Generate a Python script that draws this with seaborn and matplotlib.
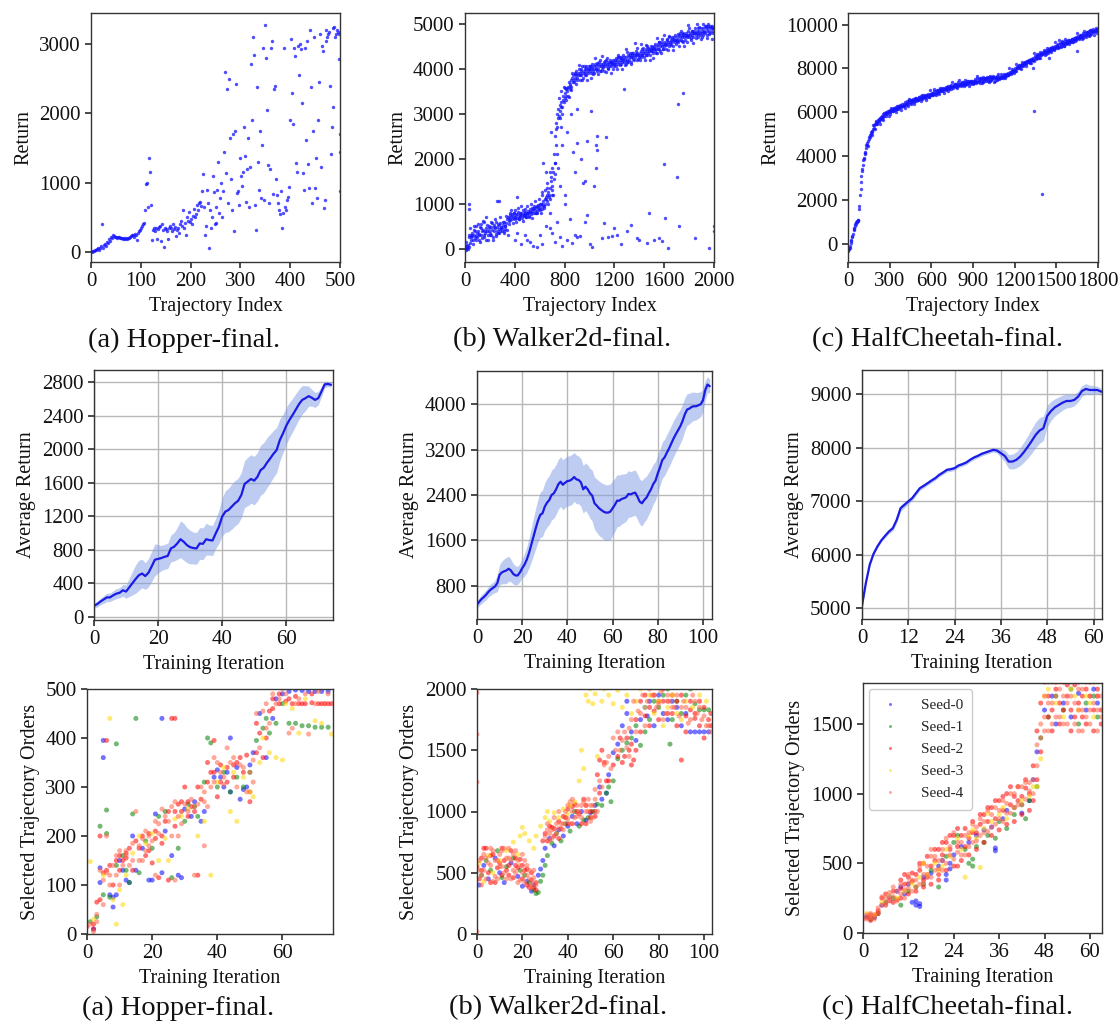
import numpy as np
import pandas as pd
import matplotlib
matplotlib.use("Agg")
import matplotlib.pyplot as plt
import seaborn as sns

# ---------------------------------------------------------------- data
# Top row: return of every collected trajectory
hop_step = 2
hop_ret = [
    10, 5, 20, 15, 30, 25, 40, 60, 35, 50,
    80, 410, 60, 100, 120, 90, 150, 130, 180, 160,
    220, 200, 240, 230, 210, 220, 200, 215, 210, 205,
    200, 195, 190, 200, 185, 195, 190, 200, 205, 210,
    230, 240, 250, 220, 260, 250, 170, 280, 300, 320,
    350, 380, 400, 420, 600, 980, 1000, 650, 1350, 1150,
    680, 170, 320, 350, 300, 340, 180, 330, 360, 380,
    160, 400, 320, 70, 350, 330, 300, 190, 340, 380,
    350, 300, 400, 330, 360, 230, 310, 350, 280, 400,
    450, 380, 600, 350, 420, 240, 500, 450, 580, 430,
    480, 400, 520, 620, 500, 550, 680, 600, 700, 720,
    660, 880, 1130, 650, 250, 380, 900, 700, 50, 600,
    350, 500, 1100, 870, 400, 650, 420, 900, 1300, 560,
    780, 1000, 500, 880, 1450, 2600, 1140, 2350, 700, 2500,
    1650, 1050, 600, 1700, 300, 1750, 2420, 850, 880, 680,
    1350, 1100, 950, 1150, 1800, 1380, 720, 1200, 1650, 650,
    1220, 2720, 1900, 3100, 2850, 680, 320, 2380, 1300, 900,
    1750, 780, 1550, 2950, 750, 3280, 2800, 2050, 1250, 700,
    1200, 2950, 3050, 830, 2350, 2400, 1050, 820, 700, 600,
    550, 880, 350, 560, 2950, 650, 600, 750, 800, 940,
    1900, 3080, 2300, 1850, 2950, 2830, 1280, 1160, 2980, 2550,
    3000, 2930, 2150, 1140, 900, 2950, 1620, 3050, 1270, 920,
    3200, 2380, 700, 1750, 3110, 930, 1360, 780, 1900, 2450,
    3150, 1220, 2980, 2900, 630, 750, 3050, 3100, 3150, 3180,
    2400, 1420, 1800, 2100, 3250, 3100, 3150, 3200, 3180, 3150,
]
hop_extra_idx = [497, 499, 499, 499, 486, 472]
hop_extra_ret = [2780, 1700, 1450, 880, 3230, 3200]

wk_step = 5
wk_ret = [
    0, 20, -30, 50, 10, 80, 40, 250, 120, 300, 200, 350, 270, 180, 420, 300, 230, 500, 280, 340,
    260, 400, 180, 330, 470, 300, 550, 240, 380, 420, 290, 600, 350, 200, 450, 380, 520, 310, 400, 460,
    350, 480, 300, 560, 420, 250, 380, 520, 450, 330, 600, 400, 470, 350, 520, 430, 380, 560, 480, 400,
    450, 520, 380, 600, 430, 490, 560, 420, 650, 700, 620, 680, 740, 640, 700, 760, 660, 720, 690, 780,
    700, 650, 740, 680, 760, 820, 700, 660, 750, 720, 800, 680, 740, 860, 720, 780, 740, 820, 700, 790,
    760, 840, 800, 720, 880, 820, 760, 900, 840, 780, 870, 940, 800, 860, 920, 840, 780, 900, 960, 880,
    850, 920, 980, 880, 1000, 940, 1050, 900, 1100, 980, 1150, 1050, 1200, 1000, 1250, 1150, 1350, 1100, 1500, 1300,
    1400, 1200, 1700, 1550, 1900, 1650, 2300, 2100, 2700, 2900, 3100, 2950, 3200, 3050, 3150, 3250, 3000, 3300, 3400, 3250,
    3350, 3450, 3300, 3550, 3500, 3400, 3600, 3700, 3550, 3650, 3750, 3600, 3800, 3700, 3850, 3750, 3900, 3800, 3850, 3950,
    3800, 3900, 3850, 4000, 3750, 3900, 3950, 3850, 4050, 3900, 3800, 3950, 4000, 3900, 4050, 3850, 3950, 4000, 3900, 4050,
    3950, 4000, 3900, 4050, 4100, 3950, 4000, 4050, 3900, 4100, 4000, 4050, 3950, 4100, 4000, 4150, 4050, 3950, 4100, 4050,
    4000, 4100, 4050, 4150, 3950, 4100, 4050, 4200, 4100, 4000, 4150, 4100, 4050, 4200, 4150, 4050, 4100, 4200, 4150, 4050,
    4100, 4200, 4150, 4050, 4200, 4250, 4100, 4150, 4250, 4200, 4100, 4250, 4150, 4200, 4300, 4150, 4250, 4200, 4100, 4250,
    4200, 4150, 4300, 4250, 4200, 4350, 4250, 4150, 4300, 4250, 4350, 4200, 4300, 4250, 4400, 4300, 4200, 4350, 4300, 4250,
    4300, 4350, 4250, 4400, 4300, 4450, 4350, 4250, 4400, 4350, 4450, 4300, 4400, 4500, 4350, 4450, 4400, 4300, 4500, 4400,
    4400, 4450, 4350, 4500, 4450, 4400, 4550, 4450, 4350, 4500, 4550, 4450, 4600, 4500, 4400, 4550, 4500, 4600, 4450, 4550,
    4500, 4600, 4550, 4450, 4650, 4550, 4600, 4500, 4700, 4600, 4550, 4650, 4700, 4600, 4500, 4650, 4700, 4600, 4750, 4650,
    4650, 4700, 4600, 4750, 4650, 4700, 4800, 4650, 4700, 4750, 4600, 4800, 4700, 4750, 4650, 4800, 4750, 4700, 4850, 4750,
    4700, 4800, 4750, 4650, 4850, 4750, 4800, 4700, 4850, 4800, 4900, 4750, 4850, 4800, 4700, 4900, 4850, 4800, 4750, 4900,
    4800, 4850, 4900, 4750, 4850, 4950, 4800, 4900, 4850, 4750, 4950, 4900, 4850, 4800, 4950, 4900, 4850, 4950, 4800, 4900,
]
# a second pass of Walker2d trajectories (indices 2, 12, 22, ...)
wk_ret_b = [
    80, 150, -20, 300, 450, 250, 100, 500, 380, 200,
    550, 300, 150, 450, 620, 250, 400, 700, 180, 500,
    300, 600, 200, 480, 650, 280, 550, 350, 700, 450,
    600, 350, 500, 720, 300, 550, 800, 850, 560, 780,
    850, 600, 900, 650, 800, 950, 620, 750, 880, 700,
    950, 700, 820, 1000, 680, 900, 1050, 780, 950, 1100,
    1000, 800, 1200, 950, 1300, 1100, 1450, 1200, 1700, 1600,
    1800, 2100, 2500, 2800, 3000, 3350, 2900, 3500, 3150, 3600,
    3570, 3390, 3570, 3360, 3620, 3530, 3910, 3710, 3880, 3670,
    3740, 4090, 3860, 4000, 3750, 4070, 3860, 4010, 3760, 3990,
    4050, 3800, 4020, 3890, 4240, 3990, 4130, 3880, 4190, 3960,
    4280, 4030, 4170, 3920, 4230, 4010, 4160, 3900, 4130, 4000,
    4100, 4240, 3990, 4300, 4080, 4230, 3990, 4220, 4090, 4430,
    4375, 4155, 4305, 4115, 4345, 4215, 4565, 4325, 4465, 4215,
    4205, 4555, 4315, 4455, 4205, 4525, 4305, 4455, 4205, 4435,
    4490, 4240, 4470, 4340, 4690, 4450, 4590, 4340, 4660, 4440,
    4760, 4520, 4660, 4410, 4730, 4520, 4670, 4420, 4650, 4540,
    4625, 4765, 4515, 4835, 4615, 4765, 4515, 4725, 4605, 4965,
    4900, 4680, 4830, 4580, 4790, 4680, 4990, 4780, 4920, 4670,
    4710, 5000, 4810, 4940, 4690, 4990, 4780, 4930, 4670, 4900,
]
wk_out_idx = [30, 35, 260, 270, 420, 400, 420, 450, 480, 500, 520, 550, 580, 600, 620, 650, 680, 700,
              720, 740, 760, 780, 800, 820, 840, 860, 880, 900, 920, 950, 960, 980, 1000, 1020,
              1040, 1050, 1060, 1130, 1100, 1120, 1150, 1180, 1200, 1220, 1250, 1280, 1300, 1330,
              1380, 1400, 1460, 1480, 1520, 1560, 1580, 1600, 1610, 1630, 1700, 1710, 1720, 1750,
              1850, 1960, 2000, 2000, 780, 820, 850, 870, 880, 900, 930, 960, 980, 1010, 1050,
              1060, 900, 800, 750, 760, 720, 700, 680, 690, 730, 770, 630, 650, 660, 620]
wk_out_ret = [1000, 880, 1050, 1060, 1150, 200, 350, 100, 300, 200, 150, 50, 30, 300, 100, 500, 450, 350,
              150, 600, 250, 50, 1200, 180, 650, 120, 300, 250, 280, 1450, 600, 750, 100, 30,
              1400, 1800, 2500, 2480, 230, 560, 250, 270, 450, 300, 100, 3550, 380, 520,
              230, 200, 120, 800, 200, 230, 170, 1880, 680, 20, 1600, 3220, 500, 3450,
              230, 20, 500, 400, 2300, 2600, 3000, 2150, 1700, 2350, 2000, 1500, 2400, 3050, 2300,
              2200, 3100, 1000, 1800, 1400, 1900, 1200, 800, 2600, 2650, 2700, 1900, 1700, 1350, 1250]

hc_step = 5
hc_ret = [
    -300, -250, -200, -100, 50, 150, 300, 450, 600, 700, 800, 900, 1000, 1050, 1100, 1050, 1600, 2200, 2800, 3100,
    3400, 3600, 3800, 3900, 4100, 4200, 4350, 4500, 4600, 4700, 4800, 4850, 4950, 5000, 5100, 5150, 5250, 5300, 5400, 5450,
    5450, 5550, 5500, 5650, 5600, 5700, 5750, 5700, 5800, 5850, 5800, 5900, 5850, 5950, 5900, 6000, 5950, 6050, 6000, 6050,
    6000, 6100, 6050, 6150, 6100, 6050, 6200, 6150, 6100, 6250, 6200, 6150, 6300, 6250, 6200, 6350, 6300, 6250, 6400, 6300,
    6350, 6300, 6450, 6400, 6350, 6500, 6400, 6450, 6550, 6450, 6400, 6550, 6500, 6600, 6500, 6450, 6600, 6550, 6650, 6550,
    6600, 6550, 6700, 6600, 6650, 6750, 6650, 6600, 6750, 6700, 6800, 6700, 6650, 6800, 6750, 6850, 6750, 6700, 6850, 6800,
    6850, 6800, 6900, 6850, 6950, 6850, 6800, 6950, 6900, 7000, 6900, 6950, 7050, 6950, 7000, 7100, 7000, 6950, 7100, 7050,
    7050, 7150, 7050, 7100, 7200, 7100, 7050, 7200, 7150, 7250, 7150, 7100, 7250, 7200, 7300, 7200, 7150, 7300, 7250, 7200,
    7250, 7300, 7200, 7350, 7250, 7300, 7400, 7300, 7250, 7400, 7350, 7300, 7450, 7350, 7400, 7300, 7450, 7400, 7350, 7450,
    7400, 7450, 7350, 7500, 7400, 7450, 7550, 7400, 7500, 7450, 7350, 7500, 7550, 7450, 7500, 7400, 7550, 7500, 7450, 7550,
    7500, 7450, 7550, 7600, 7500, 7450, 7600, 7550, 7500, 7650, 7550, 7450, 7600, 7550, 7500, 7650, 7600, 7550, 7500, 7600,
    7550, 7600, 7650, 7550, 7700, 7600, 7650, 7750, 7650, 7700, 7800, 7700, 7750, 7850, 7800, 7750, 7900, 7850, 7950, 7900,
    7950, 8000, 7900, 8050, 8000, 8100, 8050, 8000, 8150, 8100, 8200, 8150, 8100, 8250, 8200, 8300, 8250, 8200, 8350, 8300,
    8300, 8400, 8350, 8250, 8450, 8400, 8500, 8400, 8350, 8550, 8500, 8450, 8600, 8500, 8550, 8650, 8600, 8500, 8700, 8650,
    8650, 8750, 8700, 8600, 8800, 8750, 8850, 8750, 8700, 8900, 8850, 8800, 8950, 8850, 8900, 9000, 8900, 8850, 9050, 8950,
    9000, 9050, 8950, 9100, 9000, 9150, 9050, 9000, 9200, 9100, 9150, 9050, 9250, 9150, 9100, 9250, 9200, 9150, 9300, 9200,
    9250, 9300, 9200, 9350, 9300, 9400, 9300, 9250, 9450, 9350, 9400, 9500, 9400, 9350, 9500, 9450, 9550, 9450, 9400, 9550,
    9500, 9600, 9550, 9450, 9650, 9550, 9600, 9700, 9600, 9550, 9750, 9650, 9700, 9800, 9650, 9750, 9700, 9850, 9750, 9800,
]
# a second pass of HalfCheetah trajectories (indices 2, 12, 22, ...)
hc_ret_b = [
    -350, -200, 100, 350, 650, 900, 1000, 1100, 1700, 2500,
    3300, 3850, 4150, 4500, 4450, 4850, 5100, 4950, 5400, 5250,
    5580, 5455, 5610, 5455, 5690, 5635, 5970, 5825, 5980, 5815,
    5900, 6210, 6050, 6180, 5990, 6280, 6130, 6270, 6090, 6300,
    6370, 6180, 6390, 6300, 6610, 6440, 6560, 6370, 6650, 6500,
    6570, 6690, 6500, 6790, 6630, 6760, 6580, 6780, 6700, 7010,
    6870, 6780, 7080, 6900, 7030, 6830, 7110, 6960, 7080, 6890,
    7025, 7145, 6955, 7155, 7065, 7365, 7185, 7305, 7105, 7385,
    7465, 7280, 7395, 7190, 7465, 7300, 7415, 7220, 7415, 7320,
    7270, 7450, 7350, 7640, 7450, 7560, 7350, 7620, 7450, 7560,
    7600, 7390, 7660, 7490, 7600, 7390, 7580, 7480, 7770, 7580,
    7740, 7590, 7730, 7550, 7770, 7690, 8010, 7840, 7980, 7790,
    7870, 8190, 8030, 8170, 7990, 8290, 8150, 8290, 8120, 8340,
    8410, 8230, 8450, 8370, 8690, 8520, 8660, 8470, 8770, 8620,
    8700, 8830, 8650, 8940, 8800, 8930, 8760, 8970, 8900, 9210,
    9070, 8990, 9290, 9120, 9240, 9050, 9330, 9180, 9300, 9120,
    9250, 9370, 9190, 9390, 9300, 9610, 9430, 9550, 9360, 9640,
    9720, 9540, 9670, 9470, 9750, 9590, 9710, 9530, 9730, 9640,
]
hc_out_idx = [1340, 1395, 1330, 1650, 1450]
hc_out_ret = [6050, 2250, 8000, 8800, 8500]

# Middle row: mean return and spread over seeds per training iteration
hop_mean = [130, 150, 180, 205, 230, 230, 255, 275, 285, 315, 300, 350, 400, 450, 495, 515, 485, 525,
            600, 680, 690, 700, 715, 725, 815, 835, 875, 925, 895, 855, 830, 820, 815, 875, 870, 925,
            915, 910, 995, 1075, 1195, 1255, 1275, 1315, 1355, 1385, 1455, 1585, 1615, 1645, 1625,
            1670, 1750, 1780, 1840, 1890, 1945, 1990, 2110, 2190, 2280, 2350, 2410, 2475, 2540, 2590,
            2610, 2635, 2615, 2590, 2610, 2690, 2775, 2780, 2770]
hop_spread = [30, 35, 40, 45, 50, 50, 55, 60, 60, 70, 80, 110, 140, 170, 180, 170, 160, 170, 180, 190,
              170, 150, 150, 150, 160, 170, 190, 220, 220, 210, 200, 190, 190, 190, 190, 190, 180, 180,
              180, 200, 230, 250, 260, 270, 270, 270, 270, 280, 290, 290, 290, 290, 300, 300, 300, 290,
              280, 270, 250, 230, 220, 210, 200, 190, 180, 170, 150, 120, 100, 90, 80, 60, 40, 30, 30]

wk_mean = [466, 520, 566, 600, 640, 690, 730, 760, 790, 847, 993, 1035, 1055, 1070, 1100, 1070, 1010,
           982, 982, 1035, 1110, 1170, 1257, 1375, 1520, 1667, 1814, 1950, 2050, 2078, 2195, 2265,
           2312, 2400, 2430, 2500, 2590, 2635, 2580, 2617, 2646, 2652, 2676, 2717, 2676, 2664, 2623,
           2500, 2547, 2500, 2430, 2388, 2254, 2213, 2166, 2136, 2107, 2090, 2090, 2107, 2166, 2225,
           2300, 2300, 2330, 2342, 2360, 2418, 2412, 2430, 2442, 2371, 2283, 2254, 2312, 2353, 2430,
           2500, 2594, 2652, 2781, 2887, 3016, 3062, 3145, 3221, 3309, 3397, 3473, 3543, 3614, 3708,
           3825, 3907, 3924, 3953, 3965, 3965, 3983, 4000, 4071, 4247, 4347, 4318]
wk_spread = [60, 70, 80, 80, 90, 90, 100, 100, 110, 150, 180, 200, 220, 230, 220, 200, 180, 170, 160,
             160, 170, 200, 230, 260, 300, 330, 360, 380, 400, 410, 420, 430, 430, 440, 440, 440, 440,
             440, 440, 440, 440, 440, 440, 430, 430, 420, 420, 420, 420, 430, 440, 450, 460, 470, 480,
             480, 490, 490, 490, 490, 480, 470, 460, 450, 440, 430, 420, 410, 400, 400, 400, 400, 400,
             400, 390, 380, 370, 360, 350, 340, 330, 320, 320, 320, 320, 320, 320, 320, 310, 310, 300,
             300, 290, 280, 270, 260, 250, 240, 230, 220, 200, 170, 140, 120]

hc_mean = [5044, 5467, 5810, 6016, 6153, 6265, 6352, 6433, 6495, 6651, 6869, 6931, 6994, 7056, 7150,
           7243, 7287, 7336, 7386, 7430, 7492, 7536, 7586, 7598, 7617, 7667, 7692, 7723, 7773, 7816,
           7847, 7885, 7910, 7935, 7960, 7947, 7897, 7847, 7741, 7741, 7773, 7835, 7922, 8021, 8128,
           8240, 8321, 8364, 8595, 8688, 8757, 8801, 8844, 8875, 8875, 8894, 8956, 9062, 9100, 9081,
           9081, 9081, 9050]
hc_spread = [40, 40, 35, 30, 30, 30, 35, 40, 50, 60, 60, 55, 50, 45, 45, 40, 40, 40, 40, 40, 40, 40,
             40, 40, 40, 40, 40, 40, 40, 40, 40, 40, 40, 40, 40, 50, 80, 110, 130, 140, 150, 170, 190,
             210, 230, 240, 240, 230, 200, 180, 160, 150, 140, 130, 120, 110, 100, 100, 100, 90, 80,
             70, 60]

# Bottom row: order of the trajectories selected at each training iteration, per seed
seed_names = ["Seed-0", "Seed-1", "Seed-2", "Seed-3", "Seed-4"]
seed_colors = ["blue", "green", "red", "gold", "tomato"]

hop_sel = [
    [(2, 10), (4, 135), (4, 105), (5, 360), (5, 395), (7, 80), (8, 55), (8, 75), (9, 80), (10, 150),
     (11, 130), (12, 110), (13, 105), (14, 200), (15, 130), (17, 175), (19, 110), (20, 110), (21, 245),
     (23, 440), (23, 125), (24, 210), (26, 160), (28, 120), (29, 115), (30, 255), (32, 240), (33, 270),
     (35, 230), (36, 250), (39, 320), (40, 335), (41, 320), (42, 300), (43, 330), (44, 290), (44, 400),
     (46, 340), (47, 275), (48, 295), (49, 300), (50, 345), (51, 370), (53, 450), (55, 360), (57, 440),
     (58, 480), (60, 490), (62, 495), (64, 498), (66, 497), (68, 495), (70, 495), (72, 495), (74, 495)],
    [(1, 25), (3, 35), (4, 220), (5, 80), (6, 253), (6, 205), (7, 75), (9, 388), (9, 140), (11, 160),
     (12, 130), (13, 105), (14, 245), (16, 125), (18, 190), (20, 175), (22, 240), (24, 250), (26, 115),
     (28, 175), (30, 230), (31, 265), (33, 260), (34, 240), (36, 310), (37, 400), (38, 390), (40, 300),
     (42, 330), (44, 290), (46, 320), (48, 300), (50, 330), (52, 395), (54, 420), (55, 440), (56, 410),
     (58, 430), (60, 470), (62, 430), (64, 430), (66, 425), (68, 425), (70, 422), (72, 422), (74, 422),
     (15, 440)],
    [(0, 15), (2, 20), (3, 65), (4, 200), (6, 395), (6, 130), (8, 100), (10, 160), (11, 150), (12, 155),
     (13, 175), (15, 190), (17, 200), (18, 160), (19, 205), (20, 145), (21, 195), (22, 115), (23, 185),
     (24, 230), (25, 110), (26, 440), (27, 440), (27, 220), (28, 265), (29, 250), (30, 300), (31, 270),
     (33, 250), (34, 120), (35, 275), (37, 310), (38, 330), (39, 395), (40, 280), (41, 345), (43, 310),
     (45, 345), (47, 360), (49, 365), (50, 270), (52, 430), (53, 410), (56, 455), (57, 480), (59, 470),
     (61, 475), (63, 470), (65, 470), (67, 470), (69, 472), (71, 470), (73, 470), (75, 470),
     (2, 10), (4, 70), (5, 125), (7, 140), (9, 150), (10, 130), (12, 165), (14, 130), (16, 175),
     (19, 170), (21, 210), (23, 200), (25, 250), (27, 250), (29, 270), (31, 240), (32, 260), (34, 300),
     (37, 350), (39, 330), (41, 310), (43, 340), (45, 320), (46, 350), (48, 330), (50, 290), (52, 370),
     (54, 360), (55, 400), (57, 460), (59, 490), (62, 480), (64, 485), (66, 470), (69, 490), (72, 470),
     (74, 470)],
    [(1, 148), (2, 30), (5, 120), (7, 440), (8, 70), (9, 20), (10, 90), (11, 60), (12, 120), (14, 165),
     (16, 200), (18, 185), (20, 205), (22, 150), (24, 195), (25, 150), (27, 235), (29, 240), (31, 255),
     (34, 200), (36, 230), (38, 120), (40, 310), (42, 340), (44, 250), (45, 330), (46, 230), (48, 320),
     (50, 290), (51, 280), (53, 350), (54, 400), (56, 370), (58, 360), (60, 355), (61, 470), (63, 460),
     (65, 410), (67, 480), (70, 435), (72, 430), (75, 408)],
    [(1, 20), (2, 5), (3, 40), (4, 130), (5, 110), (6, 125), (7, 120), (8, 140), (9, 160), (10, 100),
     (12, 160), (13, 140), (14, 150), (15, 250), (16, 150), (17, 195), (18, 210), (19, 180), (21, 230),
     (22, 205), (23, 255), (25, 230), (26, 260), (27, 270), (28, 200), (30, 265), (32, 275), (33, 120),
     (35, 300), (36, 270), (37, 260), (39, 360), (40, 350), (42, 320), (43, 380), (45, 360), (47, 345),
     (49, 290), (51, 355), (52, 450), (54, 455), (55, 470), (57, 490), (59, 480), (60, 500), (62, 410),
     (63, 420), (65, 480), (68, 408), (71, 495), (74, 490),
     (3, 25), (5, 60), (7, 100), (9, 120), (10, 170), (11, 140), (12, 170), (14, 185), (16, 180),
     (18, 170), (19, 200), (20, 190), (22, 225), (24, 240), (26, 200), (28, 240), (29, 225), (31, 250),
     (33, 260), (34, 265), (36, 290), (38, 300), (39, 310), (41, 330), (42, 305), (44, 350), (46, 300),
     (48, 340), (50, 330), (51, 310), (53, 380), (55, 420), (56, 430), (58, 470), (61, 490), (64, 470),
     (67, 490), (70, 470), (73, 470), (6, 200), (17, 150), (21, 120), (27, 110), (36, 180)],
]

wk_sel = [
    [(1, 400), (3, 560), (5, 450), (8, 620), (10, 500), (12, 420), (15, 580), (18, 470), (20, 390),
     (22, 430), (24, 350), (25, 400), (27, 480), (28, 530), (29, 600), (30, 700), (32, 780), (34, 720),
     (36, 850), (38, 800), (40, 880), (42, 960), (44, 900), (46, 1000), (48, 930), (50, 990), (52, 1050),
     (54, 1200), (55, 1100), (57, 1150), (58, 1300), (60, 1480), (62, 1550), (64, 1700), (66, 1800),
     (68, 1650), (70, 1580), (72, 1750), (74, 1850), (76, 1900), (78, 1700), (80, 1950), (82, 1800),
     (84, 1750), (86, 1900), (88, 1850), (90, 1700), (92, 1800), (94, 1650), (96, 1650), (98, 1650),
     (100, 1650), (102, 1650), (66, 1900), (75, 1780)],
    [(2, 480), (4, 600), (6, 520), (9, 680), (11, 460), (13, 550), (16, 620), (19, 520), (21, 480),
     (23, 420), (25, 360), (26, 330), (27, 340), (28, 430), (29, 480), (30, 560), (31, 640), (33, 740),
     (35, 820), (37, 760), (39, 900), (41, 840), (43, 1000), (45, 880), (47, 930), (49, 950), (51, 1000),
     (53, 1060), (55, 1050), (57, 1150), (58, 1200), (59, 1080), (60, 1250), (62, 1430), (64, 1500),
     (66, 1560), (68, 1600), (70, 1700), (72, 1540), (74, 1650), (76, 1750), (78, 1900), (80, 1850),
     (82, 1950), (84, 2000), (86, 1750), (88, 1900), (90, 1800), (92, 1950), (94, 2000), (96, 1880),
     (98, 1830), (100, 1830), (102, 1830), (85, 1550)],
    [(1, 450), (2, 620), (4, 700), (6, 420), (7, 650), (9, 540), (11, 700), (12, 600), (14, 480),
     (15, 680), (17, 560), (19, 610), (20, 450), (22, 530), (23, 380), (24, 500), (26, 420), (30, 820),
     (31, 760), (33, 870), (34, 800), (36, 920), (37, 860), (39, 950), (40, 1020), (42, 900), (43, 1060),
     (45, 980), (47, 1100), (48, 900), (50, 1000), (52, 960), (53, 1300), (54, 1420), (55, 1500),
     (56, 1400), (57, 1250), (60, 1380), (63, 1600), (65, 1450), (67, 1500), (68, 1380), (69, 1420),
     (70, 1500), (72, 1900), (74, 1950), (76, 1850), (78, 1820), (80, 1750), (82, 1900), (84, 1800),
     (86, 1950), (88, 1700), (90, 1420), (92, 1780), (94, 1830), (96, 1760), (98, 1700), (100, 1600),
     (102, 1750), (103, 1800),
     (0, 550), (2, 520), (3, 700), (5, 500), (6, 640), (8, 420), (10, 580), (11, 480), (13, 520),
     (14, 560), (16, 460), (17, 620), (18, 540), (20, 560), (21, 520), (22, 400), (24, 440), (25, 380),
     (26, 360), (29, 760), (32, 880), (34, 860), (36, 780), (38, 960), (40, 900), (42, 1040), (44, 1000),
     (46, 900), (48, 1050), (50, 950), (52, 1000), (54, 1150), (58, 1250), (62, 1450), (64, 1400),
     (66, 1600), (68, 1550), (70, 1750), (72, 1650), (74, 1780), (76, 1700), (78, 1950), (80, 1900),
     (82, 2000), (84, 1900), (86, 1800), (88, 1900), (90, 1950), (92, 1650), (94, 1900), (96, 1800),
     (98, 1900), (100, 1850), (103, 1700)],
    [(1, 580), (3, 430), (5, 640), (7, 500), (10, 600), (13, 680), (16, 750), (18, 650), (19, 800),
     (20, 870), (21, 820), (23, 760), (25, 700), (26, 800), (28, 880), (30, 950), (31, 1000), (32, 920),
     (34, 990), (36, 950), (38, 1020), (40, 980), (41, 1050), (43, 1080), (45, 1250), (46, 1500),
     (47, 1350), (48, 1950), (49, 1900), (50, 2000), (51, 1880), (52, 1960), (53, 1450), (55, 1900),
     (56, 2000), (58, 1950), (60, 1880), (62, 1990), (64, 1850), (66, 1950), (68, 1800), (70, 1900),
     (72, 2000), (74, 1850), (76, 1950), (78, 1800), (80, 1900), (82, 1700), (84, 1850), (86, 1950),
     (88, 1800), (90, 1750), (92, 1900), (95, 1850), (98, 1950), (101, 1900)],
    [(0, 1970), (0, 1630), (0, 1240), (0, 20), (1, 520), (2, 400), (3, 650), (5, 580), (6, 700),
     (8, 470), (9, 600), (10, 650), (11, 550), (12, 700), (13, 450), (14, 620), (16, 520), (17, 680),
     (18, 420), (19, 560), (21, 600), (22, 480), (23, 520), (24, 410), (25, 460), (31, 850), (32, 820),
     (33, 780), (35, 900), (36, 860), (38, 900), (39, 1000), (40, 940), (41, 1080), (42, 1000), (44, 960),
     (46, 1050), (48, 1000), (49, 1100), (50, 920), (51, 1050), (52, 1180), (54, 1250), (56, 1380),
     (58, 1450), (61, 1500), (62, 1650), (64, 1580), (66, 1520), (67, 1680), (69, 1900), (71, 1820),
     (73, 1950), (75, 1900), (77, 1950), (79, 1850), (81, 1980), (83, 1800), (85, 1900), (87, 1850),
     (89, 1780), (91, 1900), (93, 1720), (95, 1950), (97, 1800), (99, 1750), (101, 1700), (103, 1650),
     (1, 600), (2, 480), (3, 520), (4, 450), (4, 620), (6, 560), (7, 430), (7, 680), (8, 600), (9, 450),
     (10, 550), (11, 680), (12, 500), (13, 620), (14, 700), (15, 450), (15, 600), (16, 650), (17, 500),
     (18, 600), (19, 440), (20, 650), (20, 500), (21, 420), (22, 560), (23, 450), (24, 380), (25, 520),
     (26, 400), (30, 800), (31, 900), (32, 760), (33, 850), (34, 950), (35, 820), (36, 1000), (37, 900),
     (38, 850), (39, 950), (40, 1050), (41, 900), (42, 1100), (43, 950), (44, 1050), (45, 1000),
     (46, 950), (47, 1080), (48, 1050), (49, 1000), (50, 1050), (51, 950), (52, 1100), (53, 1000),
     (55, 1200), (57, 1400), (59, 1350), (60, 1600), (63, 1500), (65, 1650), (67, 1450), (68, 1750),
     (70, 1650), (72, 1800), (74, 1700), (76, 2000), (78, 1950), (80, 1880), (82, 1750), (84, 1950),
     (86, 1850), (88, 1950), (90, 1850), (92, 1850), (94, 1750), (96, 1900), (98, 1850), (100, 1780),
     (102, 1700)],
]

hc_sel = [
    [(1, 120), (3, 110), (5, 200), (7, 260), (9, 300), (10, 330), (11, 280), (12, 350), (13, 220),
     (14, 200), (14, 230), (15, 210), (15, 190), (16, 400), (18, 430), (20, 480), (21, 520), (22, 380),
     (22, 420), (23, 460), (23, 500), (24, 560), (26, 620), (28, 650), (30, 700), (32, 740), (34, 760),
     (35, 610), (35, 590), (37, 820), (38, 880), (40, 900), (42, 860), (44, 950), (45, 1100), (46, 1300),
     (48, 1600), (50, 1700), (51, 1500), (53, 1650), (55, 1550), (57, 1720), (59, 1600), (61, 1750),
     (62, 1650)],
    [(2, 100), (4, 140), (6, 220), (8, 250), (10, 200), (12, 300), (14, 330), (16, 350), (18, 450),
     (20, 330), (22, 550), (24, 650), (25, 700), (27, 600), (28, 500), (29, 530), (29, 480), (30, 620),
     (32, 650), (33, 700), (35, 680), (36, 800), (38, 750), (40, 850), (42, 920), (43, 820), (44, 950),
     (46, 1050), (47, 1400), (49, 1550), (51, 1700), (53, 1600), (55, 1750), (57, 1500), (59, 1650),
     (61, 1700), (62, 1550)],
    [(1, 110), (2, 130), (3, 120), (4, 160), (5, 250), (6, 280), (7, 230), (8, 300), (9, 240), (10, 380),
     (10, 320), (11, 350), (12, 400), (13, 370), (14, 420), (15, 450), (16, 380), (16, 500), (17, 550),
     (18, 480), (19, 520), (20, 600), (20, 420), (21, 560), (22, 650), (23, 600), (24, 700), (25, 480),
     (25, 620), (26, 700), (27, 750), (28, 680), (29, 800), (30, 720), (31, 780), (32, 850), (33, 800),
     (34, 900), (35, 820), (36, 950), (37, 880), (38, 1000), (39, 920), (40, 980), (41, 1050), (42, 980),
     (43, 1040), (44, 1000), (45, 1200), (46, 1450), (47, 1650), (48, 1800), (49, 1700), (50, 1600),
     (51, 1750), (52, 1650), (53, 1800), (54, 1700), (55, 1600), (56, 1780), (57, 1650), (58, 1550),
     (59, 1750), (60, 1700), (61, 1600), (62, 1750), (63, 1500),
     (2, 90), (4, 140), (6, 200), (8, 220), (10, 250), (11, 420), (12, 280), (13, 430), (14, 300),
     (15, 500), (16, 330), (17, 400), (18, 350), (19, 600), (20, 380), (21, 650), (22, 450), (23, 700),
     (24, 480), (25, 750), (26, 520), (27, 620), (28, 560), (29, 720), (30, 600), (31, 850), (32, 650),
     (33, 900), (34, 700), (35, 950), (36, 740), (37, 980), (38, 780), (39, 1050), (40, 800), (41, 950),
     (42, 850), (43, 1100), (44, 880), (45, 950), (46, 1100), (47, 1300), (49, 1550), (50, 1450),
     (51, 1800), (52, 1500), (53, 1600), (54, 1780), (55, 1450), (56, 1550), (57, 1800), (58, 1700),
     (59, 1500), (60, 1800), (61, 1450), (62, 1700), (63, 1600)],
    [(1, 140), (3, 130), (5, 220), (7, 270), (9, 250), (11, 300), (13, 350), (15, 400), (17, 420),
     (19, 500), (20, 450), (21, 480), (23, 550), (25, 680), (26, 600), (27, 400), (28, 700), (30, 680),
     (31, 470), (32, 750), (34, 800), (36, 850), (38, 820), (40, 900), (42, 950), (44, 980), (46, 1050),
     (47, 1250), (49, 1750), (51, 1650), (53, 1550), (55, 1750), (57, 1600), (59, 1700), (61, 1550),
     (62, 1800), (16, 500), (22, 600), (29, 740), (33, 860), (37, 900), (45, 1050), (48, 1700),
     (52, 1800), (56, 1700), (60, 1650)],
    [(0, 100), (1, 130), (2, 110), (3, 100), (4, 180), (5, 200), (6, 250), (7, 290), (8, 260), (9, 230),
     (10, 280), (11, 310), (12, 360), (12, 320), (13, 300), (14, 380), (15, 350), (16, 420), (17, 480),
     (18, 400), (18, 550), (19, 450), (20, 520), (21, 600), (21, 450), (22, 500), (23, 620), (24, 530),
     (25, 580), (26, 650), (27, 560), (28, 720), (29, 650), (30, 760), (31, 700), (32, 800), (33, 730),
     (34, 850), (35, 780), (36, 880), (37, 800), (38, 930), (39, 860), (40, 1000), (41, 920), (42, 1050),
     (43, 960), (44, 1080), (45, 1000), (46, 1200), (47, 1500), (48, 1700), (48, 1550), (49, 1800),
     (50, 1650), (51, 1550), (52, 1750), (53, 1700), (54, 1500), (55, 1800), (56, 1650), (57, 1750),
     (58, 1600), (59, 1800), (60, 1500), (61, 1650), (62, 1450), (63, 1700), (49, 1450), (57, 1450),
     (62, 1600),
     (1, 100), (2, 140), (3, 130), (4, 150), (5, 260), (6, 220), (7, 250), (8, 330), (9, 300), (10, 350),
     (11, 250), (12, 420), (13, 380), (14, 330), (15, 480), (16, 360), (17, 420), (18, 600), (19, 550),
     (20, 460), (21, 520), (22, 680), (23, 560), (24, 720), (25, 650), (26, 560), (27, 700), (28, 620),
     (29, 780), (30, 660), (31, 820), (32, 720), (33, 880), (34, 760), (35, 900), (36, 820), (37, 950),
     (38, 860), (39, 1000), (40, 900), (41, 1050), (42, 920), (43, 1080), (44, 1020), (45, 1100),
     (46, 1350), (47, 1400), (48, 1450), (49, 1650), (50, 1800), (51, 1700), (52, 1550), (53, 1500),
     (54, 1650), (55, 1700), (56, 1500), (57, 1600), (58, 1750), (59, 1550), (60, 1700), (61, 1800),
     (62, 1700), (63, 1550), (50, 1500), (54, 1800), (58, 1450), (60, 1600)],
]

captions = ["(a) Hopper-final.", "(b) Walker2d-final.", "(c) HalfCheetah-final."]

# ---------------------------------------------------------------- style
sns.set_theme(style="ticks")
plt.rcParams["font.family"] = ["Liberation Serif", "DejaVu Serif"]
plt.rcParams.update({
    "axes.edgecolor": "#333333",
    "axes.linewidth": 1.0,
    "xtick.color": "#333333",
    "ytick.color": "#333333",
    "xtick.labelcolor": "#111111",
    "ytick.labelcolor": "#111111",
    "xtick.major.size": 4,
    "ytick.major.size": 4,
    "xtick.labelsize": 15,
    "ytick.labelsize": 15,
    "axes.labelsize": 14.5,
    "axes.labelcolor": "#111111",
})

W, H = 1120, 1023
fig = plt.figure(figsize=(W / 100, H / 100), dpi=100)


def box(left, top, right, bottom):
    return [left / W, 1 - bottom / H, (right - left) / W, (bottom - top) / H]


dot_blue = "#1414ff"

# ---------------------------------------------------------------- top row
top_specs = [
    (box(91, 13, 340, 262),
     [(np.arange(len(hop_ret)) * hop_step, hop_ret), (hop_extra_idx, hop_extra_ret)],
     (0, 500), (-145, 3450), np.arange(0, 501, 100), np.arange(0, 3001, 1000)),
    (box(465, 13, 714, 262),
     [(np.arange(len(wk_ret)) * wk_step, wk_ret), (np.arange(len(wk_ret_b)) * 10 + 2, wk_ret_b),
      (wk_out_idx, wk_out_ret)],
     (0, 2000), (-300, 5240), np.arange(0, 2001, 400), np.arange(0, 5001, 1000)),
    (box(848, 13, 1098, 262),
     [(np.arange(len(hc_ret)) * hc_step, hc_ret), (np.arange(len(hc_ret_b)) * 10 + 2, hc_ret_b),
      (hc_out_idx, hc_out_ret)],
     (0, 1800), (-840, 10535), np.arange(0, 1801, 300), np.arange(0, 10001, 2000)),
]
for rect, parts, xl, yl, xt, yt in top_specs:
    ax = fig.add_axes(rect)
    df = pd.DataFrame({"Trajectory Index": np.concatenate([np.asarray(p[0]) for p in parts]),
                       "Return": np.concatenate([np.asarray(p[1]) for p in parts])})
    sns.scatterplot(data=df, x="Trajectory Index", y="Return", ax=ax, color=dot_blue,
                    s=6, alpha=0.75, linewidth=0)
    ax.set_xlim(*xl)
    ax.set_ylim(*yl)
    ax.set_xticks(xt)
    ax.set_yticks(yt)

# ---------------------------------------------------------------- middle row
mid_specs = [
    (box(94, 370, 333, 620), hop_mean, hop_spread, (0, 74.6), (-40, 2947),
     np.arange(0, 61, 20), np.arange(0, 2801, 400)),
    (box(477, 371, 712, 619), wk_mean, wk_spread, (0, 104), (214, 4586),
     np.arange(0, 101, 20), np.arange(800, 4001, 800)),
    (box(862, 370, 1102, 619), hc_mean, hc_spread, (0, 62.2), (4794, 9455),
     np.arange(0, 61, 12), np.arange(5000, 9001, 1000)),
]
for rect, mean, spread, xl, yl, xt, yt in mid_specs:
    ax = fig.add_axes(rect)
    it = np.arange(len(mean))
    mean = np.asarray(mean, float)
    spread = np.asarray(spread, float)
    ax.fill_between(it, mean - spread, mean + spread, color="#7f9be6", alpha=0.5, linewidth=0)
    sns.lineplot(x=it, y=mean, ax=ax, color="#1b1be6", linewidth=1.6)
    ax.grid(True, color="#b8b8b8", linewidth=1.0)
    ax.set_axisbelow(True)
    ax.set_xlim(*xl)
    ax.set_ylim(*yl)
    ax.set_xticks(xt)
    ax.set_yticks(yt)
    ax.set_xlabel("Training Iteration")
    ax.set_ylabel("Average Return")

# ---------------------------------------------------------------- bottom row
palette = dict(zip(seed_names, seed_colors))
bot_specs = [
    (box(87, 689, 333, 934), hop_sel, (0, 75.5), (0, 500),
     np.arange(0, 61, 20), np.arange(0, 501, 100), False),
    (box(477, 689, 712, 934), wk_sel, (0, 103.5), (0, 2000),
     np.arange(0, 101, 20), np.arange(0, 2001, 500), False),
    (box(863, 683, 1102, 933), hc_sel, (0, 63.2), (0, 1794),
     np.arange(0, 61, 12), np.arange(0, 1501, 500), True),
]
for rect, sel, xl, yl, xt, yt, with_legend in bot_specs:
    ax = fig.add_axes(rect)
    rows = [(x, y, seed_names[k]) for k, pts in enumerate(sel) for x, y in pts]
    df = pd.DataFrame(rows, columns=["Training Iteration", "Selected Trajectory Orders", "seed"])
    sns.scatterplot(data=df, x="Training Iteration", y="Selected Trajectory Orders", hue="seed",
                    hue_order=seed_names, palette=palette, s=13, alpha=0.55, linewidth=0,
                    ax=ax, legend=with_legend)
    ax.set_xlim(*xl)
    ax.set_ylim(*yl)
    ax.set_xticks(xt)
    ax.set_yticks(yt)
    if with_legend:
        sns.move_legend(ax, "upper left", title=None, fontsize=11, frameon=True,
                        markerscale=0.6, borderpad=0.6, labelspacing=0.55, handlelength=1.6,
                        handletextpad=1.2, borderaxespad=0.4, edgecolor="#cccccc",
                        fancybox=True, framealpha=1.0)

# ---------------------------------------------------------------- captions
for y_px, centers in [(340, [184, 562, 938]), (1008, [178, 558, 948])]:
    for cx, text in zip(centers, captions):
        fig.text(cx / W, 1 - y_px / H, text, ha="center", va="center", fontsize=20.5,
                 color="#111111")

fig.savefig("out.png", dpi=100)
